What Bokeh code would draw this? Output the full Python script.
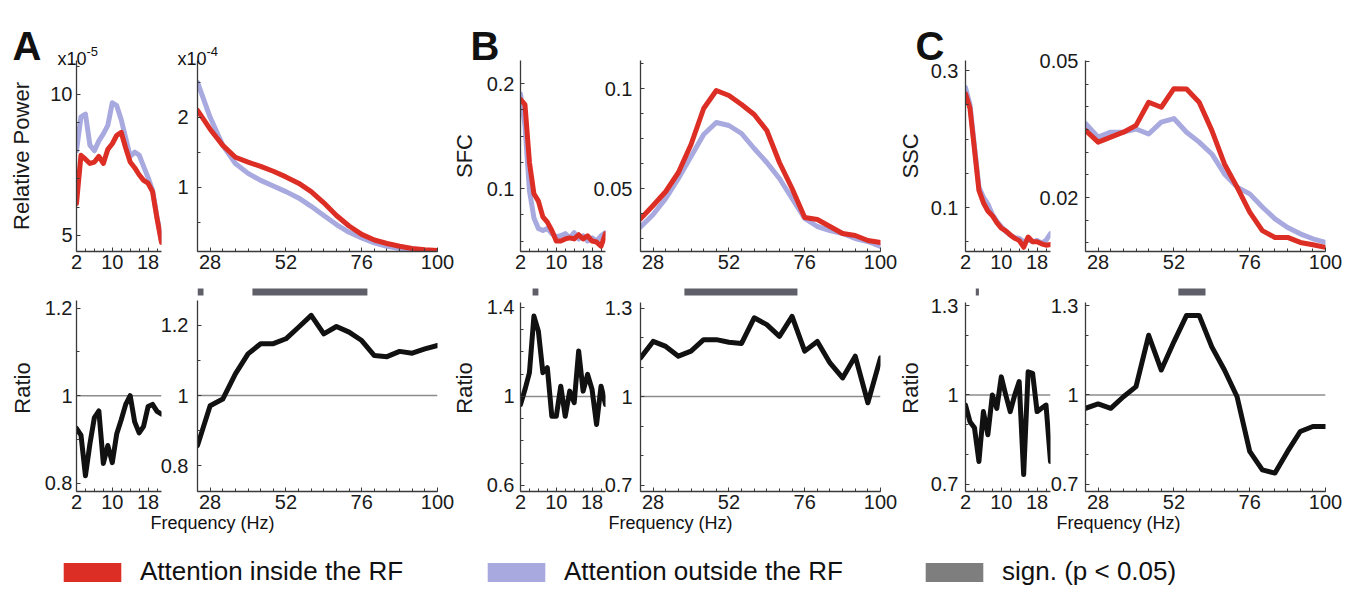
import numpy as np
from bokeh.plotting import figure
from bokeh.models import (Range1d, FixedTicker, Span, Label, Legend, LegendItem,
                          CustomJSTickFormatter)
from bokeh.layouts import row, column
from bokeh.embed import file_html
from bokeh.resources import INLINE

# ---------------------------------------------------------------- data
freq_low = [2, 3, 4, 5, 6, 7, 8, 9, 10, 11, 12, 13, 14, 15, 16, 17, 18, 19, 20, 21]
freq_high = [24, 28, 32, 36, 40, 44, 48, 52, 56, 60, 64, 68, 72, 76, 80, 84, 88, 92, 96, 100]

# A  relative power (low band in x1e-5, high band in x1e-4)
power_low_in = [6.13, 7.84, 7.7, 7.55, 7.6, 7.8, 7.55, 8.05, 8.25, 8.55, 8.65, 8.1, 7.6, 7.4,
                7.15, 6.95, 6.85, 6.55, 5.6, 4.75]
power_low_out = [8.0, 9.2, 9.3, 8.2, 8.0, 8.35, 8.6, 8.9, 9.7, 9.6, 9.1, 8.45, 7.8, 7.95,
                 7.85, 7.45, 7.05, 6.6, 5.65, 4.8]
power_high_in = [2.1, 1.83, 1.6, 1.43, 1.36, 1.3, 1.23, 1.15, 1.06, 0.94, 0.78, 0.6, 0.45, 0.33,
                 0.25, 0.2, 0.16, 0.13, 0.11, 0.1]
power_high_out = [2.5, 2.0, 1.6, 1.34, 1.2, 1.1, 1.02, 0.94, 0.85, 0.73, 0.6, 0.47, 0.36, 0.28,
                  0.21, 0.16, 0.13, 0.11, 0.09, 0.08]
power_ratio_low = [0.925, 0.91, 0.817, 0.89, 0.95, 0.965, 0.845, 0.886, 0.847, 0.913, 0.945, 0.98,
                   1.0, 0.94, 0.915, 0.93, 0.975, 0.98, 0.964, 0.958]
power_ratio_high = [0.857, 0.971, 0.99, 1.062, 1.119, 1.148, 1.148, 1.162, 1.195, 1.229, 1.176,
                    1.197, 1.181, 1.157, 1.114, 1.111, 1.126, 1.121, 1.133, 1.143]

# B  spike-field coherence
sfc_low_in = [0.185, 0.18, 0.125, 0.095, 0.088, 0.073, 0.068, 0.06, 0.05, 0.05, 0.052, 0.053,
              0.052, 0.056, 0.052, 0.055, 0.05, 0.049, 0.045, 0.057]
sfc_low_out = [0.19, 0.16, 0.098, 0.072, 0.062, 0.06, 0.062, 0.057, 0.054, 0.055, 0.057, 0.053,
               0.058, 0.052, 0.055, 0.05, 0.053, 0.05, 0.055, 0.058]
sfc_high_in = [0.0348, 0.0415, 0.0485, 0.058, 0.072, 0.09, 0.099, 0.0965, 0.092, 0.087, 0.079,
               0.063, 0.05, 0.0355, 0.0345, 0.031, 0.0275, 0.0265, 0.024, 0.023]
sfc_high_out = [0.0307, 0.037, 0.045, 0.055, 0.066, 0.077, 0.083, 0.0815, 0.0775, 0.07, 0.063,
                0.055, 0.045, 0.035, 0.031, 0.029, 0.0275, 0.025, 0.0235, 0.021]
sfc_ratio_low = [0.964, 1.031, 1.107, 1.361, 1.293, 1.107, 1.129, 0.911, 0.911, 1.046, 0.911,
                 1.024, 0.972, 1.204, 1.024, 1.099, 1.031, 0.874, 1.046, 0.964]
sfc_ratio_high = [1.131, 1.187, 1.17, 1.137, 1.154, 1.193, 1.193, 1.184, 1.18, 1.267, 1.244,
                  1.204, 1.272, 1.154, 1.187, 1.114, 1.063, 1.137, 0.979, 1.131]

# C  spike-spike coherence
ssc_low_in = [0.266, 0.245, 0.185, 0.125, 0.107, 0.095, 0.088, 0.078, 0.07, 0.066, 0.06, 0.055,
              0.052, 0.042, 0.057, 0.05, 0.05, 0.047, 0.045, 0.046]
ssc_low_out = [0.275, 0.25, 0.19, 0.13, 0.115, 0.105, 0.09, 0.08, 0.072, 0.065, 0.06, 0.056,
               0.055, 0.05, 0.053, 0.05, 0.052, 0.048, 0.052, 0.062]
ssc_high_in = [0.0348, 0.0322, 0.0333, 0.0344, 0.0359, 0.041, 0.0399, 0.044, 0.0439, 0.041,
               0.0348, 0.0274, 0.0223, 0.0168, 0.0127, 0.0112, 0.0112, 0.0101, 0.0096, 0.009]
ssc_high_out = [0.0363, 0.0333, 0.0344, 0.0344, 0.0351, 0.034, 0.0366, 0.0374, 0.0344, 0.0322,
                0.0296, 0.0252, 0.0223, 0.0208, 0.0179, 0.0153, 0.0134, 0.012, 0.0109, 0.0101]
ssc_ratio_low = [0.966, 0.91, 0.89, 0.776, 0.944, 0.866, 1.0, 0.955, 1.061, 1.0, 0.944, 1.0,
                 1.045, 0.732, 1.078, 1.073, 0.944, 0.955, 0.966, 0.776]
ssc_ratio_high = [0.955, 0.97, 0.955, 0.994, 1.028, 1.201, 1.084, 1.179, 1.268, 1.268, 1.162,
                  1.084, 0.994, 0.81, 0.748, 0.737, 0.81, 0.877, 0.894, 0.894]

# significant frequency intervals (Hz)
sig_A_low_start, sig_A_low_end = [], []
sig_A_high_start, sig_A_high_end = [24, 41.4], [25.9, 77.8]
sig_B_low_start, sig_B_low_end = [4.7], [6.0]
sig_B_high_start, sig_B_high_end = [37.9], [73.7]
sig_C_low_start, sig_C_low_end = [4.3], [5.0]
sig_C_high_start, sig_C_high_end = [53.4], [62.0]

# tick labels
x_ticks_low = [2, 10, 18]
x_ticks_high = [28, 52, 76, 100]
y_ticks_A_low, y_ticks_A_high = [5, 10], [1, 2]
y_ticks_B_low, y_ticks_B_high = [0.1, 0.2], [0.05, 0.1]
y_ticks_C_low, y_ticks_C_high = [0.1, 0.3], [0.02, 0.05]
y_ticks_A_ratio = [0.8, 1, 1.2]
y_ticks_B_ratio_low = [0.6, 1, 1.4]
y_ticks_ratio_13 = [0.7, 1, 1.3]

legend_labels = ["Attention inside the RF", "Attention outside the RF", "sign. (p < 0.05)"]

# ---------------------------------------------------------------- style
FONT = "Liberation Sans"
RED = "#dc2e25"
LAV = "#a8a9df"
BLACK = "#111111"
SIG = "#5e5f68"
LEG_GRAY = "#7e7e7e"
AXIS = "#3a3a3a"
LW = 5

SMALL_W, BIG_W = 85, 240
S_LB, S_RB, B_LB, B_RB = 72, 10, 62, 20
TOP_Y0 = 8
TOP_H, TOP_TB, TOP_BB = 272, 52, 29
BOT_H, BOT_TB, BOT_BB = 240, 4, 29
OVER_W, OVER_H = 1345, 588
FMT = CustomJSTickFormatter(code="return String(tick);")


def make_panel(small, top, xr, yr):
    w = (S_LB + SMALL_W + S_RB) if small else (B_LB + BIG_W + B_RB)
    p = figure(width=w, height=TOP_H if top else BOT_H,
               x_range=Range1d(*xr), y_range=Range1d(*yr),
               output_backend="svg", toolbar_location=None,
               min_border_left=S_LB if small else B_LB,
               min_border_right=S_RB if small else B_RB,
               min_border_top=TOP_TB if top else BOT_TB,
               min_border_bottom=TOP_BB if top else BOT_BB)
    p.border_fill_color = None
    p.background_fill_color = None
    p.outline_line_color = None
    p.xgrid.visible = False
    p.ygrid.visible = False
    return p


def style_axes(p, xticks, xminor, yticks, yminor, ylabel=None, y_standoff=6,
               label_standoff=10, ybounds=None):
    for ax in (p.xaxis[0], p.yaxis[0]):
        ax.axis_line_color = AXIS
        ax.axis_line_width = 1.3
        ax.major_tick_in = 4
        ax.major_tick_out = 0
        ax.minor_tick_in = 3
        ax.minor_tick_out = 0
        ax.major_tick_line_color = AXIS
        ax.minor_tick_line_color = AXIS
        ax.major_label_text_font = FONT
        ax.major_label_text_font_size = "20px"
        ax.major_label_text_color = "#1a1a1a"
        ax.formatter = FMT
    p.xaxis[0].ticker = FixedTicker(ticks=xticks, minor_ticks=list(xminor))
    p.yaxis[0].ticker = FixedTicker(ticks=yticks, minor_ticks=list(yminor))
    p.xaxis[0].major_label_standoff = 3
    p.yaxis[0].major_label_standoff = y_standoff
    if ylabel:
        ya = p.yaxis[0]
        ya.axis_label = ylabel
        ya.axis_label_text_font = FONT
        ya.axis_label_text_font_style = "normal"
        ya.axis_label_text_font_size = "22px"
        ya.axis_label_text_color = "#1a1a1a"
        ya.axis_label_standoff = label_standoff
    if ybounds is not None:
        p.yaxis[0].bounds = ybounds


def sig_bars(p, starts, ends, yr):
    if not starts:
        return
    span = yr[1] - yr[0]
    frame_h = 207.0
    top = yr[1] - 4 / frame_h * span
    bottom = yr[1] - 11 / frame_h * span
    p.quad(left=starts, right=ends, bottom=bottom, top=top, fill_color=SIG, line_color=None)


minor_low_x = np.arange(2, 22, 2)
minor_high_x = np.arange(24, 101, 4)

XR_LOW = (2, 21)
XR_HIGH = (24, 100)


def top_pair(lo_in, lo_out, hi_in, hi_out, yr_lo, yr_hi, yt_lo, ym_lo, yt_hi, ym_hi,
             ylabel, y_so_lo, lab_so, y_so_hi):
    ps = make_panel(True, True, XR_LOW, yr_lo)
    ps.line(freq_low, lo_out, line_width=LW, color=LAV, line_join="round", line_cap="round")
    ps.line(freq_low, lo_in, line_width=LW, color=RED, line_join="round", line_cap="round")
    style_axes(ps, x_ticks_low, minor_low_x, yt_lo, ym_lo, ylabel, y_so_lo, lab_so)
    pb = make_panel(False, True, XR_HIGH, yr_hi)
    pb.line(freq_high, hi_out, line_width=LW, color=LAV, line_join="round", line_cap="round")
    pb.line(freq_high, hi_in, line_width=LW, color=RED, line_join="round", line_cap="round")
    style_axes(pb, x_ticks_high, minor_high_x, yt_hi, ym_hi, None, y_so_hi)
    return ps, pb


def bottom_pair(r_lo, r_hi, yr_lo, top_lo, yr_hi, top_hi, yt_lo, yt_hi,
                sig_lo, sig_hi, y_so_lo, lab_so, y_so_hi):
    ps = make_panel(True, False, XR_LOW, yr_lo)
    ps.add_layout(Span(location=1, dimension="width", line_color="#8c8c8c", line_width=1.5,
                       level="underlay"))
    ps.line(freq_low, r_lo, line_width=LW, color=BLACK, line_join="round", line_cap="round")
    sig_bars(ps, sig_lo[0], sig_lo[1], yr_lo)
    style_axes(ps, x_ticks_low, minor_low_x, yt_lo, np.arange(yt_lo[0], yt_lo[-1] + 0.01, 0.1),
               "Ratio", y_so_lo, lab_so, (yr_lo[0], top_lo))
    pb = make_panel(False, False, XR_HIGH, yr_hi)
    pb.add_layout(Span(location=1, dimension="width", line_color="#8c8c8c", line_width=1.5,
                       level="underlay"))
    pb.line(freq_high, r_hi, line_width=LW, color=BLACK, line_join="round", line_cap="round")
    sig_bars(pb, sig_hi[0], sig_hi[1], yr_hi)
    style_axes(pb, x_ticks_high, minor_high_x, yt_hi, np.arange(yt_hi[0], yt_hi[-1] + 0.01, 0.1),
               None, y_so_hi, 10, (yr_hi[0], top_hi))
    return ps, pb


A_ts, A_tb = top_pair(power_low_in, power_low_out, power_high_in, power_high_out,
                      (4.43, 11.2), (0.086, 2.81), y_ticks_A_low, np.arange(5, 12, 1),
                      y_ticks_A_high, [0.5, 1.5, 2.5], "Relative Power", 4, 13, 9)
B_ts, B_tb = top_pair(sfc_low_in, sfc_low_out, sfc_high_in, sfc_high_out,
                      (0.04, 0.222), (0.0185, 0.114), y_ticks_B_low, np.arange(0.05, 0.22, 0.025),
                      y_ticks_B_high, np.arange(0.025, 0.114, 0.0125), "SFC", 6, 7, 8)
C_ts, C_tb = top_pair(ssc_low_in, ssc_low_out, ssc_high_in, ssc_high_out,
                      (0.0358, 0.3146), (0.0081, 0.0502), y_ticks_C_low, np.arange(0.05, 0.31, 0.05),
                      y_ticks_C_high, np.arange(0.01, 0.0502, 0.005), "SSC", 7, 5, 7)

A_bs, A_bb = bottom_pair(power_ratio_low, power_ratio_high, (0.781, 1.254), 1.217,
                         (0.726, 1.317), 1.271, y_ticks_A_ratio, y_ticks_A_ratio,
                         (sig_A_low_start, sig_A_low_end), (sig_A_high_start, sig_A_high_end), 4, 7, 9)
B_bs, B_bb = bottom_pair(sfc_ratio_low, sfc_ratio_high, (0.573, 1.503), 1.422,
                         (0.678, 1.380), 1.319, y_ticks_B_ratio_low, y_ticks_ratio_13,
                         (sig_B_low_start, sig_B_low_end), (sig_B_high_start, sig_B_high_end), 6, 7, 8)
C_bs, C_bb = bottom_pair(ssc_ratio_low, ssc_ratio_high, (0.675, 1.372), 1.312,
                         (0.675, 1.372), 1.312, y_ticks_ratio_13, y_ticks_ratio_13,
                         (sig_C_low_start, sig_C_low_end), (sig_C_high_start, sig_C_high_end), 7, 5, 7)

# ------------------------------------------------------------- layout
small_left = [76, 520, 965]
big_left = [197, 640, 1085]
cells = []
for sl, bl in zip(small_left, big_left):
    cells.append((sl - S_LB, sl + SMALL_W + S_RB))
    cells.append((bl - B_LB, bl + BIG_W + B_RB))
margins = []
prev_right = 0
for (l, r) in cells:
    margins.append(l - prev_right)
    prev_right = r

top_figs = [A_ts, A_tb, B_ts, B_tb, C_ts, C_tb]
bot_figs = [A_bs, A_bb, B_bs, B_bb, C_bs, C_bb]
for f, m in zip(top_figs, margins):
    f.margin = (TOP_Y0, 0, 0, m)
for f, m in zip(bot_figs, margins):
    f.margin = (0, 0, 0, m)

# ------------------------------------------------------- overlay (texts, legend)
over = figure(width=OVER_W, height=OVER_H, x_range=Range1d(0, 1), y_range=Range1d(0, 1),
              output_backend="svg", toolbar_location=None,
              x_axis_location=None, y_axis_location=None,
              min_border_left=0, min_border_right=0, min_border_top=0, min_border_bottom=0)
over.border_fill_color = None
over.background_fill_color = None
over.outline_line_color = None
over.xgrid.visible = False
over.ygrid.visible = False
over.margin = (-(TOP_Y0 + TOP_H + BOT_H), 0, 0, 0)


def olabel(x, y, text, size, bold=False, align="left", baseline="alphabetic"):
    # x, y in page pixels from the top-left
    over.add_layout(Label(x=x, y=OVER_H - y, x_units="screen", y_units="screen", text=text,
                          text_font=FONT, text_font_size=size,
                          text_font_style="bold" if bold else "normal",
                          text_align=align, text_baseline=baseline, text_color="#111111"))


olabel(12, 45, "A", "40px", bold=True)
olabel(470, 45, "B", "40px", bold=True)
olabel(915, 45, "C", "40px", bold=True)
olabel(57, 58, "x10", "18px")
olabel(86, 51, "-5", "13px")
olabel(177, 58, "x10", "18px")
olabel(206, 51, "-4", "13px")
for cx in (212, 670, 1118):
    olabel(cx, 522, "Frequency (Hz)", "18px", align="center", baseline="middle")

proxy_colors = [RED, LAV, LEG_GRAY]
legend_x = [56, 480, 918]
for lab, col, lx in zip(legend_labels, proxy_colors, legend_x):
    r = over.quad(left=[5], right=[6], bottom=[5], top=[6], fill_color=col, line_color=None)
    leg = Legend(items=[LegendItem(label=lab, renderers=[r])], location=(lx, 1),
                 orientation="horizontal", glyph_width=72, glyph_height=24, label_standoff=12,
                 padding=0, margin=0, spacing=0, border_line_color=None,
                 background_fill_alpha=0, label_text_font=FONT, label_text_font_size="26px",
                 label_text_color="#111111")
    over.add_layout(leg)

layout = column(row(*top_figs), row(*bot_figs), over)
open("out.html", "w").write(file_html(layout, INLINE))
